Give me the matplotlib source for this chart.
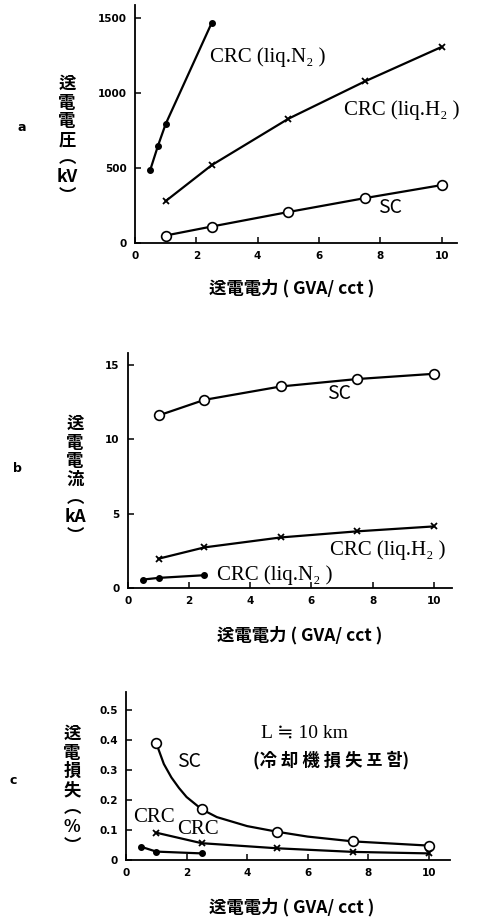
import matplotlib
matplotlib.use("Agg")
import matplotlib.pyplot as plt

# transmitted power (GVA/cct)
power = [1, 2.5, 5, 7.5, 10]
power_n2_volt = [0.5, 0.75, 1.0, 2.5]
power_n2 = [0.5, 1.0, 2.5]

# a: transmission voltage (kV)
volt_n2 = [490, 650, 795, 1470]
volt_h2 = [280, 520, 830, 1080, 1310]
volt_sc = [50, 110, 207, 300, 387]

# b: transmission current (kA)
curr_sc = [11.6, 12.65, 13.55, 14.05, 14.4]
curr_h2 = [1.97, 2.73, 3.4, 3.81, 4.14]
curr_n2 = [0.57, 0.68, 0.86]

# c: transmission loss (%)
loss_sc = [0.389, 0.169, 0.094, 0.062, 0.048]
loss_h2 = [0.091, 0.056, 0.039, 0.027, 0.022]
loss_n2 = [0.044, 0.028, 0.022]

# SC loss curve
loss_sc_trace_x = [1.0, 1.25, 1.5, 1.75, 2.0, 2.5, 3.0, 4.0, 5.0, 6.0, 7.5, 10.0]
loss_sc_trace_y = [0.389, 0.32, 0.275, 0.24, 0.21, 0.169, 0.143, 0.113, 0.094, 0.078, 0.062, 0.048]

xticks = [0, 2, 4, 6, 8, 10]

CJK = ["Noto Sans CJK KR", "DejaVu Sans"]
SERIF = ["Liberation Serif", "DejaVu Serif"]

W, H = 481, 921
fig = plt.figure(figsize=(W / 100, H / 100), dpi=100)


def make_axes(left, right, bottom, top, xmax, ymax, yticks, ylabels):
    ax = fig.add_axes([left / W, 1 - bottom / H, (right - left) / W, (bottom - top) / H])
    ax.set_xlim(0, xmax)
    ax.set_ylim(0, ymax)
    for s in ["top", "right"]:
        ax.spines[s].set_visible(False)
    for s in ["left", "bottom"]:
        ax.spines[s].set_linewidth(1.3)
    ax.set_xticks(xticks)
    ax.set_xticklabels([str(t) for t in xticks], fontsize=7.5, fontweight="bold")
    ax.set_yticks(yticks)
    ax.set_yticklabels(ylabels, fontsize=7.5, fontweight="bold")
    ax.tick_params(direction="in", length=4, width=1.1, pad=6)
    return ax


def vlabel(x, y, chars):
    fig.text(x / W, 1 - y / H, "\n".join(chars), family=CJK, fontsize=12.5,
             fontweight="bold", ha="center", va="center", linespacing=1.05)


def xlabel(x, y):
    fig.text(x / W, 1 - y / H, "送電電力 ( GVA/ cct )", family=CJK, fontsize=12.5,
             fontweight="bold", ha="center", va="center")


line_kw = dict(color="black", lw=1.6)
sc_kw = dict(marker="o", ms=7, mfc="white", mec="black", mew=1.2)
h2_kw = dict(marker="x", ms=5, mew=1.3)
n2_kw = dict(marker="o", ms=4, mfc="black", mec="black")

# ---- a
ax = make_axes(135, 457, 243, 5, 10.5, 1590, [0, 500, 1000, 1500], ["0", "500", "1000", "1500"])
ax.plot(power_n2_volt, volt_n2, **n2_kw, **line_kw)
ax.plot(power, volt_h2, **h2_kw, **line_kw)
ax.plot(power, volt_sc, **sc_kw, **line_kw)
ax.text(2.45, 1240, "CRC (liq.N₂ )", family=SERIF, fontsize=15, va="center")
ax.text(6.8, 887, "CRC (liq.H₂ )", family=SERIF, fontsize=15, va="center")
ax.text(7.94, 240, "SC", family=CJK, fontsize=14, va="center")
fig.text(22 / W, 1 - 127 / H, "a", fontsize=9, fontweight="bold", ha="center", va="center")
vlabel(67, 140, ["送", "電", "電", "圧", "︵", "kV", "︶"])
xlabel(292, 288)

# ---- b
ax = make_axes(128, 452, 588, 353, 10.6, 15.8, [0, 5, 10, 15], ["0", "5", "10", "15"])
ax.plot(power, curr_sc, **sc_kw, **line_kw)
ax.plot(power, curr_h2, **h2_kw, **line_kw)
ax.plot(power_n2, curr_n2, **n2_kw, **line_kw)
ax.text(6.5, 13.05, "SC", family=CJK, fontsize=14, va="center")
ax.text(6.6, 2.56, "CRC (liq.H₂ )", family=SERIF, fontsize=15, va="center")
ax.text(2.9, 0.87, "CRC (liq.N₂ )", family=SERIF, fontsize=15, va="center")
fig.text(17 / W, 1 - 468 / H, "b", fontsize=9, fontweight="bold", ha="center", va="center")
vlabel(75, 480, ["送", "電", "電", "流", "︵", "kA", "︶"])
xlabel(300, 635)

# ---- c
ax = make_axes(126, 450, 860, 692, 10.7, 0.56, [0, 0.1, 0.2, 0.3, 0.4, 0.5],
               ["0", "0.1", "0.2", "0.3", "0.4", "0.5"])
ax.plot(loss_sc_trace_x, loss_sc_trace_y, **line_kw)
ax.plot(power, loss_sc, ls="none", **sc_kw)
ax.plot(power, loss_h2, **h2_kw, **line_kw)
ax.plot(power_n2, loss_n2, **n2_kw, **line_kw)
ax.text(1.7, 0.328, "SC", family=CJK, fontsize=14, va="center")
ax.text(0.22, 0.143, "CRC", family=SERIF, fontsize=15, va="center")
ax.text(1.7, 0.103, "CRC", family=SERIF, fontsize=15, va="center")
ax.text(4.45, 0.423, "L ≒ 10 km", family=SERIF, fontsize=14, va="center")
ax.text(4.2, 0.333, "(冷 却 機 損 失 포 함)", family=CJK, fontsize=12.5, fontweight="bold",
        va="center")
fig.text(13 / W, 1 - 780 / H, "c", fontsize=9, fontweight="bold", ha="center", va="center")
vlabel(72, 790, ["送", "電", "損", "失", "︵", "%", "︶"])
xlabel(292, 907)

fig.savefig("out.png", dpi=100)
